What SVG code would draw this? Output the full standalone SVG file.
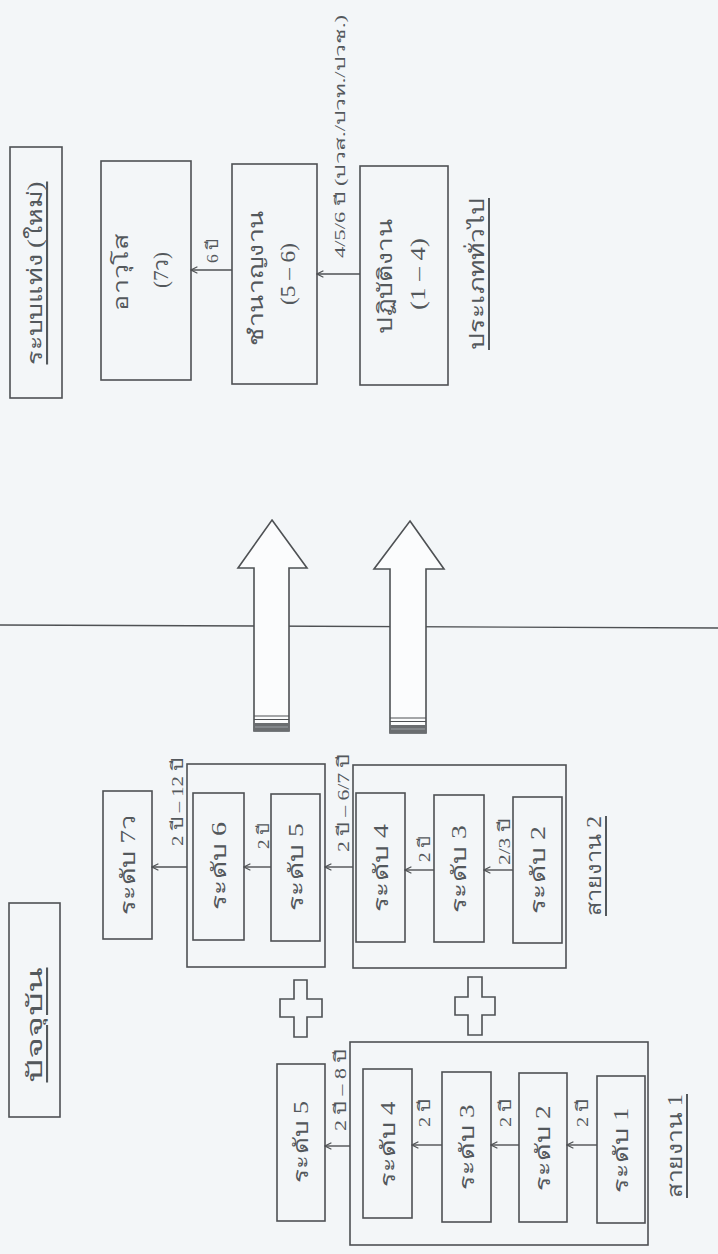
<svg xmlns="http://www.w3.org/2000/svg" width="718" height="1254" viewBox="0 0 718 1254">
<style>
.box{fill:none;stroke:#4e5154;stroke-width:1.6}
.t{font-family:'Liberation Serif','DejaVu Serif',serif;fill:#53585c;text-anchor:middle;dominant-baseline:central;font-size:20px}
.s{font-size:16px}
.u{text-decoration:underline}
.c{fill:none;stroke:#4e5154;stroke-width:1.4}
.big{fill:#fbfcfd;stroke:#4e5154;stroke-width:1.6;stroke-linejoin:miter}
</style>
<defs>
<marker id="ah" viewBox="0 0 10 10" refX="9" refY="5" markerWidth="8" markerHeight="8" orient="auto" markerUnits="userSpaceOnUse">
<path d="M1,1 L9,5 L1,9" fill="none" stroke="#4e5154" stroke-width="1.4"/>
</marker>
</defs>
<rect x="0" y="0" width="718" height="1254" fill="#f3f6f8"/>

<!-- divider -->
<line x1="0" y1="625" x2="718" y2="628" stroke="#4e5154" stroke-width="1.4"/>

<!-- New system -->
<g id="hdr-new">
<rect class="box" x="10" y="147" width="52" height="251"/>
<text class="t u" transform="translate(35 273) rotate(-90)" style="font-size:21px" textLength="183" lengthAdjust="spacingAndGlyphs">ระบบแท่ง (ใหม่)</text>
</g>
<g id="n-senior">
<rect class="box" x="101" y="161" width="90" height="219"/>
<text class="t" transform="translate(121 272) rotate(-90)" textLength="77" lengthAdjust="spacingAndGlyphs">อาวุโส</text>
<text class="t" transform="translate(161 270) rotate(-90)" textLength="36" lengthAdjust="spacingAndGlyphs">(7ว)</text>
</g>
<g id="n-expert">
<rect class="box" x="232" y="164" width="85" height="220"/>
<text class="t" transform="translate(256 278) rotate(-90)" textLength="136" lengthAdjust="spacingAndGlyphs">ชำนาญงาน</text>
<text class="t" transform="translate(288 274) rotate(-90)" textLength="62" lengthAdjust="spacingAndGlyphs">(5 – 6)</text>
</g>
<g id="n-operate">
<rect class="box" x="360" y="166" width="88" height="219"/>
<text class="t" transform="translate(385 276) rotate(-90)" textLength="115" lengthAdjust="spacingAndGlyphs">ปฏิบัติงาน</text>
<text class="t" transform="translate(418 274) rotate(-90)" textLength="72" lengthAdjust="spacingAndGlyphs">(1 – 4)</text>
</g>
<g id="lbl-general">
<text class="t u" transform="translate(477 274) rotate(-90)" textLength="152" lengthAdjust="spacingAndGlyphs">ประเภททั่วไป</text>
</g>

<!-- big transition arrows -->
<g id="bigarrows">
<polygon class="big" points="272,520 307,568 289,568 289,731 254,731 254,568 238,568"/>
<line x1="254" y1="716" x2="289" y2="716" stroke="#4e5154" stroke-width="1.2"/>
<line x1="254" y1="719.5" x2="289" y2="719.5" stroke="#4e5154" stroke-width="1"/>
<rect x="254" y="723" width="35" height="8" fill="#6a6d70"/>
<line x1="255" y1="727" x2="288" y2="727" stroke="#9aa0a4" stroke-width="1"/>
<polygon class="big" points="410,521 444,569 426,569 426,733 390,733 390,569 374,569"/>
<line x1="390" y1="718" x2="426" y2="718" stroke="#4e5154" stroke-width="1.2"/>
<line x1="390" y1="721.5" x2="426" y2="721.5" stroke="#4e5154" stroke-width="1"/>
<rect x="390" y="725" width="36" height="8" fill="#6a6d70"/>
<line x1="391" y1="729" x2="425" y2="729" stroke="#9aa0a4" stroke-width="1"/>
</g>

<!-- Current system -->
<g id="hdr-current">
<rect class="box" x="9" y="903" width="51" height="214"/>
<text class="t u" transform="translate(35 1025) rotate(-90)" style="font-size:21px" textLength="115" lengthAdjust="spacingAndGlyphs">ปัจจุบัน</text>
</g>
<g id="n-l7">
<rect class="box" x="103" y="791" width="49" height="148"/>
<text class="t" transform="translate(128 865) rotate(-90)" textLength="100" lengthAdjust="spacingAndGlyphs">ระดับ 7ว</text>
</g>
<g id="grp-upper">
<rect class="box" x="187" y="764" width="138" height="203"/>
</g>
<g id="n-u6">
<rect class="box" x="193" y="793" width="51" height="147"/>
<text class="t" transform="translate(219 866) rotate(-90)" textLength="88" lengthAdjust="spacingAndGlyphs">ระดับ 6</text>
</g>
<g id="n-u5">
<rect class="box" x="271" y="794" width="49" height="147"/>
<text class="t" transform="translate(296 867) rotate(-90)" textLength="88" lengthAdjust="spacingAndGlyphs">ระดับ 5</text>
</g>
<g id="grp-lower">
<rect class="box" x="353" y="765" width="213" height="203"/>
</g>
<g id="n-m4">
<rect class="box" x="356" y="793" width="49" height="149"/>
<text class="t" transform="translate(381 868) rotate(-90)" textLength="88" lengthAdjust="spacingAndGlyphs">ระดับ 4</text>
</g>
<g id="n-m3">
<rect class="box" x="434" y="795" width="50" height="147"/>
<text class="t" transform="translate(459 869) rotate(-90)" textLength="88" lengthAdjust="spacingAndGlyphs">ระดับ 3</text>
</g>
<g id="n-m2">
<rect class="box" x="513" y="797" width="49" height="146"/>
<text class="t" transform="translate(538 870) rotate(-90)" textLength="88" lengthAdjust="spacingAndGlyphs">ระดับ 2</text>
</g>
<g id="lbl-line2">
<text class="t u" transform="translate(594 866) rotate(-90)" textLength="100" lengthAdjust="spacingAndGlyphs">สายงาน 2</text>
</g>

<g id="plus1"><polygon class="box" points="294,980 307,980 307,999 322,999 322,1017 307,1017 307,1037 294,1037 294,1017 280,1017 280,999 294,999"/></g>
<g id="plus2"><polygon class="box" points="468,977 482,977 482,997 495,997 495,1015 482,1015 482,1035 468,1035 468,1015 455,1015 455,997 468,997"/></g>

<g id="n-a5">
<rect class="box" x="277" y="1064" width="48" height="157"/>
<text class="t" transform="translate(301 1142) rotate(-90)" textLength="82" lengthAdjust="spacingAndGlyphs">ระดับ 5</text>
</g>
<g id="grp-line1">
<rect class="box" x="350" y="1042" width="298" height="203"/>
</g>
<g id="n-a4">
<rect class="box" x="363" y="1069" width="49" height="149"/>
<text class="t" transform="translate(388 1144) rotate(-90)" textLength="85" lengthAdjust="spacingAndGlyphs">ระดับ 4</text>
</g>
<g id="n-a3">
<rect class="box" x="442" y="1072" width="49" height="150"/>
<text class="t" transform="translate(467 1147) rotate(-90)" textLength="85" lengthAdjust="spacingAndGlyphs">ระดับ 3</text>
</g>
<g id="n-a2">
<rect class="box" x="519" y="1073" width="48" height="149"/>
<text class="t" transform="translate(543 1148) rotate(-90)" textLength="85" lengthAdjust="spacingAndGlyphs">ระดับ 2</text>
</g>
<g id="n-a1">
<rect class="box" x="597" y="1076" width="48" height="147"/>
<text class="t" transform="translate(621 1150) rotate(-90)" textLength="85" lengthAdjust="spacingAndGlyphs">ระดับ 1</text>
</g>
<g id="lbl-line1">
<text class="t u" transform="translate(675 1146) rotate(-90)" textLength="104" lengthAdjust="spacingAndGlyphs">สายงาน 1</text>
</g>

<!-- connectors -->
<g id="connectors">
<path class="c" d="M232,270 H191" marker-end="url(#ah)"/>
<text class="t s" transform="translate(212 251) rotate(-90)" textLength="24" lengthAdjust="spacingAndGlyphs">6 ปี</text>
<path class="c" d="M360,274 H317" marker-end="url(#ah)"/>
<text class="t s" transform="translate(340 258) rotate(-90)" style="text-anchor:start;font-size:14px" textLength="243" lengthAdjust="spacingAndGlyphs">4/5/6 ปี (ปวส./ปวท./ปวช.)</text>

<path class="c" d="M187,867 H152" marker-end="url(#ah)"/>
<text class="t s" transform="translate(177 802) rotate(-90)" textLength="88" lengthAdjust="spacingAndGlyphs">2 ปี – 12 ปี</text>
<path class="c" d="M271,867 H244" marker-end="url(#ah)"/>
<text class="t s" transform="translate(263 836) rotate(-90)" textLength="26" lengthAdjust="spacingAndGlyphs">2 ปี</text>
<path class="c" d="M353,867 H325" marker-end="url(#ah)"/>
<text class="t s" transform="translate(343 803) rotate(-90)" textLength="98" lengthAdjust="spacingAndGlyphs">2 ปี – 6/7 ปี</text>
<path class="c" d="M434,870 H405" marker-end="url(#ah)"/>
<text class="t s" transform="translate(424 849) rotate(-90)" textLength="26" lengthAdjust="spacingAndGlyphs">2 ปี</text>
<path class="c" d="M513,870 H484" marker-end="url(#ah)"/>
<text class="t s" transform="translate(504 842) rotate(-90)" textLength="46" lengthAdjust="spacingAndGlyphs">2/3 ปี</text>

<path class="c" d="M350,1146 H325" marker-end="url(#ah)"/>
<text class="t s" transform="translate(340 1090) rotate(-90)" textLength="82" lengthAdjust="spacingAndGlyphs">2 ปี – 8 ปี</text>
<path class="c" d="M442,1145 H412" marker-end="url(#ah)"/>
<text class="t s" transform="translate(424 1113) rotate(-90)" textLength="28" lengthAdjust="spacingAndGlyphs">2 ปี</text>
<path class="c" d="M519,1145 H491" marker-end="url(#ah)"/>
<text class="t s" transform="translate(505 1113) rotate(-90)" textLength="28" lengthAdjust="spacingAndGlyphs">2 ปี</text>
<path class="c" d="M597,1145 H567" marker-end="url(#ah)"/>
<text class="t s" transform="translate(582 1113) rotate(-90)" textLength="28" lengthAdjust="spacingAndGlyphs">2 ปี</text>
</g>
</svg>
